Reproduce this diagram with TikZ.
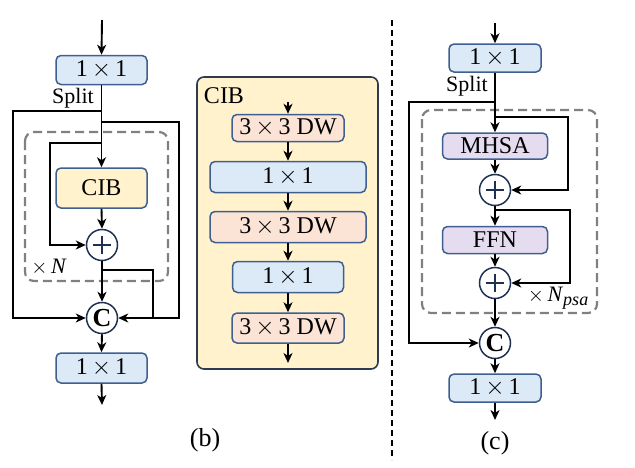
\documentclass[tikz,border=0pt]{standalone}
\usepackage{fontspec}
\setmainfont{Liberation Serif}
\usetikzlibrary{arrows.meta}
\definecolor{bluefill}{HTML}{DCE9F6}
\definecolor{peachfill}{HTML}{FBE3D6}
\definecolor{lavfill}{HTML}{E5DCEF}
\definecolor{cibfill}{HTML}{FFF2CC}
\definecolor{boxedge}{HTML}{3E5F8F}
\definecolor{circedge}{HTML}{1F3152}
\definecolor{cibedge}{HTML}{2E3A4F}
\definecolor{dashgray}{HTML}{808080}
\newcommand{\tms}{\,$\times$\,}
\tikzset{
  base/.style={draw=boxedge, line width=1.5pt, rounded corners=5pt, minimum height=29pt, inner sep=0pt, font=\fontsize{24}{26}\selectfont},
  bluebox/.style={base, fill=bluefill},
  peachbox/.style={base, fill=peachfill},
  lavbox/.style={base, fill=lavfill},
  cibbox/.style={base, fill=cibfill},
  circ/.style={circle, draw=circedge, line width=1.5pt, fill=white, minimum size=31pt, inner sep=0pt},
  plusc/.style={circ, path picture={
      \draw[line width=1.4pt] ([xshift=-9pt]path picture bounding box.center) -- ([xshift=9pt]path picture bounding box.center);
      \draw[line width=1.4pt] ([yshift=-9pt]path picture bounding box.center) -- ([yshift=9pt]path picture bounding box.center);}},
  catc/.style={circ, font=\fontsize{26}{26}\selectfont\bfseries},
  arr/.style={line width=1.9pt, -{Stealth[length=10pt,width=9pt,inset=3pt]}},
  ln/.style={line width=1.9pt},
  grp/.style={draw=dashgray, line width=2.2pt, dash pattern=on 9pt off 5pt, rounded corners=9pt},
  lbl/.style={font=\fontsize{22}{24}\selectfont, inner sep=0pt},
}
\begin{document}
\begin{tikzpicture}[x=1pt,y=-1pt]
\useasboundingbox (0,0) rectangle (635,467);

% ---------------- panel (b) ----------------
\draw[grp] (25,132) rectangle (168,281);
\coordinate (bin) at (102,20);
\coordinate (bout) at (102,405);
\node[bluebox, minimum width=91pt] (b1) at (101.5,70) {1\tms1};
\node[cibbox, minimum width=91pt, minimum height=40pt] (bcib) at (101.5,188) {CIB};
\node[plusc] (bplus) at (102,245) {};
\node[catc] (bC) at (102,318) {C};
\node[bluebox, minimum width=91pt, minimum height=30pt] (b2) at (101.5,368) {1\tms1};
\node[lbl] (bsplit) at (73,98) {Split};
\node[lbl] (bN) at (49,267) {$\times$\,\textit{N}};
\node[lbl, font=\fontsize{26}{28}\selectfont] (blab) at (205,440) {(b)};
\coordinate (bs1) at (102,111);
\coordinate (bs2) at (102,122);
\coordinate (bs3) at (102,143);
\coordinate (bp2) at (102,270);

\draw[arr] (bin) -- (b1.north);
\draw[arr] (b1.south) -- (bcib.north);
\draw[arr] (bs1) -- (13,111) |- (bC.west);
\draw[arr] (bs2) -- (179,122) |- (bC.east);
\draw[arr] (bs3) -- (50,143) |- (bplus.west);
\draw[arr] (bcib.south) -- (bplus.north);
\draw[arr] (bplus.south) -- (bC.north);
\draw[ln] (bp2) -- (153,270) -- (153,318);
\draw[arr] (bC.south) -- (b2.north);
\draw[arr] (b2.south) -- (bout);

% ---------------- CIB panel ----------------
\draw[draw=cibedge, fill=cibfill, line width=1.6pt, rounded corners=7pt] (197,77) rectangle (378,369);
\node[lbl, font=\fontsize{24}{26}\selectfont] (ciblab) at (224,96) {CIB};
\coordinate (cin) at (288,102);
\coordinate (cout) at (288,363);
\node[peachbox, minimum width=112pt, minimum height=27pt] (c1) at (288,128) {3\tms3 DW};
\node[bluebox, minimum width=156pt, minimum height=31pt] (c2) at (288,177) {1\tms1};
\node[peachbox, minimum width=156pt, minimum height=31pt] (c3) at (288,227) {3\tms3 DW};
\node[bluebox, minimum width=111pt, minimum height=31pt] (c4) at (288,277) {1\tms1};
\node[peachbox, minimum width=112pt, minimum height=30pt] (c5) at (288,328) {3\tms3 DW};
\draw[arr] (cin) -- (c1.north);
\draw[arr] (c1.south) -- (c2.north);
\draw[arr] (c2.south) -- (c3.north);
\draw[arr] (c3.south) -- (c4.north);
\draw[arr] (c4.south) -- (c5.north);
\draw[arr] (c5.south) -- (cout);

% ---------------- divider ----------------
\coordinate (dv1) at (392,20);
\coordinate (dv2) at (392,460);
\draw[line width=1.7pt, dash pattern=on 6pt off 4pt] (dv1) -- (dv2);

% ---------------- panel (c) ----------------
\draw[grp] (422,110) rectangle (597,313);
\coordinate (din) at (495,23);
\coordinate (dout) at (495,420);
\node[bluebox, minimum width=92pt, minimum height=28pt] (d1) at (495,58) {1\tms1};
\node[lavbox, minimum width=105pt, minimum height=26pt] (mhsa) at (495,146) {MHSA};
\node[plusc] (p1) at (495,190) {};
\node[lavbox, minimum width=105pt, minimum height=27pt] (ffn) at (495,240) {FFN};
\node[plusc] (p2) at (495,283) {};
\node[catc] (dC) at (495,343) {C};
\node[bluebox, minimum width=92pt, minimum height=28pt] (d2) at (495,388) {1\tms1};
\node[lbl] (dsplit) at (467,86) {Split};
\node[lbl] (dN) at (558,298) {$\times$\,\textit{N}\raisebox{-0.45ex}{\fontsize{18}{18}\selectfont\textit{psa}}};
\node[lbl, font=\fontsize{26}{28}\selectfont] (clab) at (495,443) {(c)};
\coordinate (ds1) at (495,102);
\coordinate (ds2) at (495,117);
\coordinate (ds3) at (495,210);

\draw[arr] (din) -- (d1.north);
\draw[arr] (d1.south) -- (mhsa.north);
\draw[arr] (ds1) -- (409,102) |- (dC.west);
\draw[arr] (ds2) -- (568,117) |- (p1.east);
\draw[arr] (mhsa.south) -- (p1.north);
\draw[arr] (p1.south) -- (ffn.north);
\draw[arr] (ds3) -- (570,210) |- (p2.east);
\draw[arr] (ffn.south) -- (p2.north);
\draw[arr] (p2.south) -- (dC.north);
\draw[arr] (dC.south) -- (d2.north);
\draw[arr] (d2.south) -- (dout);
\end{tikzpicture}
\end{document}
